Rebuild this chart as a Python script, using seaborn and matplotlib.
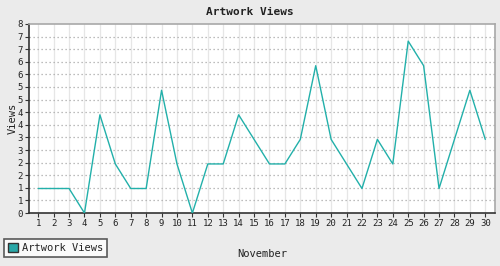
import numpy as np
import pandas as pd
import matplotlib
matplotlib.use("Agg")
import matplotlib.pyplot as plt
import seaborn as sns
from matplotlib.patches import Patch

days = list(range(1, 31))
views = [1, 1, 1, 0, 4, 2, 1, 1, 5, 2, 0, 2, 2, 4, 3, 2, 2, 3, 6, 3, 2, 1, 3, 2, 7, 6, 1, 3, 5, 3]
series_name = "Artwork Views"
title = "Artwork Views"
xlabel = "November"
ylabel = "Views"

df = pd.DataFrame({"day": days, "views": views})

sns.set_theme(style="white")
plt.rcParams['font.family'] = ['DejaVu Sans Mono', 'DejaVu Sans']

bg = "#ebebeb"
line_color = "#22b0aa"

fig = plt.figure(figsize=(5.0, 2.66), dpi=100, facecolor=bg)
ax = fig.add_axes([0.0586, 0.199, 0.932, 0.711])
ax.set_facecolor("white")

ymax = max(views) * 1.1
yticks = np.linspace(0, ymax, 16)

# grid
for d in days:
    ax.axvline(d, color="#e6e6e6", lw=0.9, zorder=0)
for y in yticks[1:-1]:
    ax.axhline(y, color="#a8a8a8", lw=0.9, ls=(0, (1, 2.2)), zorder=0)

sns.lineplot(data=df, x="day", y="views", ax=ax, color=line_color, lw=1.0, zorder=3)

ax.set_xlim(0.42, 30.65)
ax.set_ylim(0, ymax)
ax.set_xticks(days)
ax.set_xticklabels([str(d) for d in days], fontsize=6.5)
ax.set_yticks(yticks)
ax.set_yticklabels(["%.0f" % v for v in yticks], fontsize=6.5)
ax.tick_params(axis="both", direction="out", length=3, width=0.8, color="#333333", pad=1.5, labelcolor="#222222")
ax.tick_params(axis="x", bottom=True)
ax.tick_params(axis="y", left=True)

for side in ["top", "right"]:
    ax.spines[side].set_color("#a8a8a8")
    ax.spines[side].set_linewidth(1.2)
for side in ["left", "bottom"]:
    ax.spines[side].set_color("#333333")
    ax.spines[side].set_linewidth(1.2)

ax.set_xlabel("")
ax.set_ylabel("")
fig.text(0.5, 0.954, title, ha="center", va="center", fontsize=8, fontweight="bold", color="#222222")
fig.text(0.524, 0.045, xlabel, ha="center", va="center", fontsize=7.5, color="#222222")
fig.text(0.026, 0.556, ylabel, ha="center", va="center", rotation=90, fontsize=7.5, color="#222222")

handle = Patch(facecolor="#2aa8a8", edgecolor="#333333", linewidth=1.0, label=series_name)
leg = fig.legend(handles=[handle], loc="lower left", bbox_to_anchor=(0.008, 0.035),
                 frameon=True, fancybox=False, fontsize=7.5, handlelength=1.0, handleheight=1.0,
                 handletextpad=0.4, borderpad=0.35, borderaxespad=0)
leg.get_frame().set_edgecolor("#333333")
leg.get_frame().set_linewidth(1.2)
leg.get_frame().set_facecolor("white")
for t in leg.get_texts():
    t.set_color("#222222")

fig.savefig("out.png", dpi=100, facecolor=bg)
